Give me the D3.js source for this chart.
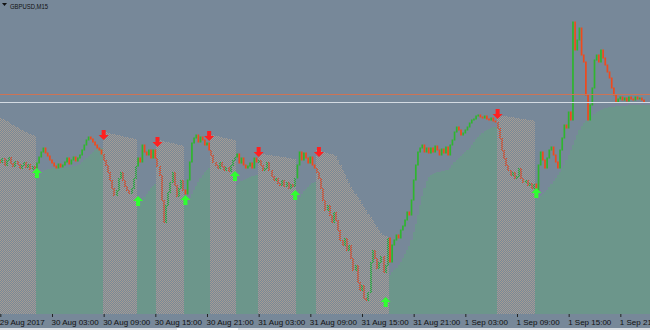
<!DOCTYPE html>
<html>
<head>
<meta charset="utf-8">
<script src="https://cdn.jsdelivr.net/npm/d3@7"></script>
<style>
  html, body { margin: 0; padding: 0; background: #778899; }
  svg { display: block; }
</style>
</head>
<body>
<svg id="chart" width="650" height="330"></svg>
<script>
// ---------------- DATA (GBPUSD, M15) ----------------
const symbolTitle = "GBPUSD,M15";
const firstBarTime = "2017-08-29T21:00";
const firstOpen = 1.29200;

// close prices, one per 15-minute bar
const closes = [
  1.29190,1.29210,1.29175,1.29200,1.29215,1.29185,1.29170,1.29195,1.29180,1.29160,
  1.29175,1.29190,1.29165,1.29180,1.29155,1.29170,1.29160,1.29185,1.29215,1.29240,
  1.29260,1.29235,1.29220,1.29200,1.29185,1.29170,1.29160,1.29180,1.29165,1.29175,
  1.29190,1.29210,1.29180,1.29200,1.29215,1.29195,1.29210,1.29225,1.29250,1.29275,
  1.29300,1.29315,1.29305,1.29290,1.29275,1.29260,1.29250,1.29230,1.29200,1.29175,
  1.29140,1.29100,1.29060,1.29025,1.29050,1.29110,1.29140,1.29100,1.29070,1.29050,
  1.29035,1.29060,1.29110,1.29170,1.29210,1.29190,1.29275,1.29240,1.29225,1.29250,
  1.29210,1.29250,1.29210,1.29170,1.29125,1.29000,1.28890,1.28975,1.29040,1.29090,
  1.29140,1.29075,1.29020,1.29060,1.29100,1.29050,1.29030,1.29100,1.29190,1.29285,
  1.29310,1.29325,1.29290,1.29315,1.29300,1.29275,1.29285,1.29250,1.29225,1.29190,
  1.29175,1.29160,1.29190,1.29170,1.29150,1.29165,1.29145,1.29175,1.29200,1.29215,
  1.29230,1.29185,1.29210,1.29175,1.29160,1.29170,1.29185,1.29160,1.29210,1.29190,
  1.29200,1.29175,1.29150,1.29160,1.29190,1.29150,1.29120,1.29100,1.29110,1.29085,
  1.29075,1.29100,1.29070,1.29090,1.29060,1.29080,1.29070,1.29110,1.29175,1.29240,
  1.29200,1.29235,1.29210,1.29185,1.29215,1.29175,1.29160,1.29140,1.29110,1.29060,
  1.29000,1.28950,1.28975,1.28925,1.28890,1.28940,1.28900,1.28850,1.28800,1.28775,
  1.28810,1.28750,1.28775,1.28710,1.28650,1.28675,1.28590,1.28550,1.28575,1.28510,
  1.28500,1.28540,1.28690,1.28750,1.28710,1.28660,1.28690,1.28720,1.28640,1.28675,
  1.28810,1.28690,1.28775,1.28800,1.28825,1.28810,1.28850,1.28870,1.28900,1.28940,
  1.28925,1.29000,1.29100,1.29175,1.29240,1.29260,1.29275,1.29240,1.29260,1.29235,
  1.29260,1.29240,1.29270,1.29250,1.29225,1.29255,1.29235,1.29265,1.29225,1.29275,
  1.29300,1.29340,1.29365,1.29350,1.29325,1.29335,1.29350,1.29365,1.29385,1.29400,
  1.29405,1.29420,1.29425,1.29415,1.29410,1.29420,1.29405,1.29400,1.29410,1.29395,
  1.29390,1.29360,1.29310,1.29250,1.29210,1.29175,1.29150,1.29125,1.29140,1.29110,
  1.29120,1.29160,1.29110,1.29090,1.29100,1.29075,1.29085,1.29060,1.29080,1.29050,
  1.29175,1.29240,1.29200,1.29160,1.29210,1.29250,1.29265,1.29225,1.29190,1.29160,
  1.29250,1.29310,1.29375,1.29360,1.29440,1.29400,1.29890,1.29750,1.29800,1.29860,
  1.29725,1.29690,1.29525,1.29400,1.29475,1.29560,1.29700,1.29725,1.29690,1.29750,
  1.29710,1.29675,1.29640,1.29610,1.29560,1.29525,1.29490,1.29505,1.29515,1.29500,
  1.29510,1.29495,1.29515,1.29505,1.29500,1.29515,1.29505,1.29510,1.29500,1.29490
];

// trend-band level, one per bar
const band = [
  1.29410,1.29405,1.29400,1.29395,1.29390,1.29380,1.29375,1.29370,1.29365,1.29355,1.29350,1.29345,1.29340,1.29335,1.29330,1.29325,1.29320,
  1.29120,1.29125,1.29130,1.29140,1.29150,1.29155,1.29155,1.29160,1.29160,1.29160,1.29160,1.29160,1.29160,1.29160,1.29165,1.29165,1.29165,1.29170,1.29170,1.29175,1.29180,1.29190,1.29200,1.29210,1.29220,1.29230,1.29240,1.29250,1.29255,1.29260,1.29260,
  1.29340,1.29340,1.29335,1.29335,1.29330,1.29330,1.29325,1.29325,1.29320,1.29320,1.29315,1.29315,1.29310,1.29310,1.29305,1.29305,
  1.28975,1.28985,1.29000,1.29015,1.29030,1.29045,1.29060,1.29070,1.29080,
  1.29300,1.29300,1.29295,1.29295,1.29290,1.29290,1.29285,1.29285,1.29280,1.29280,1.29275,1.29275,1.29270,
  1.28975,1.28990,1.29010,1.29030,1.29050,1.29070,1.29090,1.29110,1.29125,1.29140,1.29150,1.29160,
  1.29325,1.29325,1.29320,1.29320,1.29315,1.29315,1.29310,1.29310,1.29305,1.29305,1.29300,1.29300,
  1.29075,1.29085,1.29095,1.29100,1.29105,1.29110,1.29115,1.29120,1.29120,1.29125,
  1.29235,1.29235,1.29230,1.29230,1.29225,1.29225,1.29225,1.29220,1.29220,1.29220,1.29215,1.29215,1.29215,1.29210,1.29210,1.29210,1.29205,1.29205,
  1.29000,1.29015,1.29030,1.29045,1.29055,1.29065,1.29075,1.29085,1.29090,
  1.29250,1.29250,1.29245,1.29240,1.29240,1.29235,1.29230,1.29230,1.29225,1.29220,1.29200,1.29175,1.29150,1.29130,1.29105,1.29085,1.29065,1.29050,1.29030,1.29015,1.29000,1.28980,1.28965,1.28950,1.28930,1.28915,1.28900,1.28880,1.28865,1.28850,1.28835,1.28825,1.28820,1.28815,
  1.28625,1.28640,1.28650,1.28660,1.28675,1.28690,1.28710,1.28730,1.28750,1.28770,
  1.28800,1.28840,1.28880,1.28925,1.28975,1.29020,1.29060,1.29095,1.29115,1.29125,
  1.29130,1.29135,1.29140,1.29140,1.29145,1.29145,1.29150,1.29150,1.29160,1.29175,
  1.29190,1.29200,1.29210,1.29220,1.29230,1.29240,1.29250,1.29260,1.29275,1.29290,
  1.29305,1.29315,1.29325,1.29335,1.29345,1.29350,1.29355,1.29360,1.29365,1.29365,
  1.29425,1.29425,1.29420,1.29420,1.29420,1.29415,1.29415,1.29415,1.29410,1.29410,1.29410,1.29405,1.29405,1.29405,1.29400,1.29400,1.29400,1.29395,
  1.29000,1.29010,1.29020,1.29030,1.29040,1.29050,1.29065,1.29080,1.29095,1.29110,
  1.29125,1.29140,1.29160,1.29175,1.29200,1.29225,1.29250,1.29275,1.29300,1.29325,
  1.29350,1.29370,1.29385,1.29395,1.29400,1.29410,1.29420,1.29430,1.29440,1.29445,
  1.29450,1.29455,1.29460,1.29460,1.29465,1.29465,1.29465,1.29470,1.29470,1.29470,
  1.29470,1.29470,1.29470,1.29475,1.29475,1.29475,1.29475,1.29475,1.29475,1.29475,
  1.29475
];

// trend segments: first bar of each segment and its direction
const trendStarts = [0, 17, 48, 64, 73, 86, 98, 110, 120, 138, 147, 181, 231, 249];
const trendDirs   = ["down","up","down","up","down","up","down","up","down","up","down","up","down","up"];

// signal arrows
const sellBars   = [48, 73, 97, 120, 148, 231];
const sellPrices = [1.29325, 1.29290, 1.29320, 1.29240, 1.29240, 1.29430];
const buyBars    = [17, 64, 86, 109, 137, 179, 249];
const buyPrices  = [1.29135, 1.28995, 1.29000, 1.29120, 1.29025, 1.28490, 1.29035];

// bid / ask
const bidPrice = 1.29490;
const askPrice = 1.29528;

// time axis
const tickTimes  = ["2017-08-29T21:00","2017-08-30T03:00","2017-08-30T09:00","2017-08-30T15:00","2017-08-30T21:00",
                    "2017-08-31T03:00","2017-08-31T09:00","2017-08-31T15:00","2017-08-31T21:00",
                    "2017-09-01T03:00","2017-09-01T09:00","2017-09-01T15:00","2017-09-01T21:00"];
const tickLabels = ["29 Aug 2017","30 Aug 03:00","30 Aug 09:00","30 Aug 15:00","30 Aug 21:00",
                    "31 Aug 03:00","31 Aug 09:00","31 Aug 15:00","31 Aug 21:00",
                    "1 Sep 03:00","1 Sep 09:00","1 Sep 15:00","1 Sep 21:00"];

// ---------------- DRAWING ----------------
const W = 650, H = 330, plotBottom = 314;
const BG = "#778899", TEAL = "#6c968b", DOT = "#a69c92";
const BULL = "#2fb52f", BEAR = "#f04a1c";
const parse = d3.timeParse("%Y-%m-%dT%H:%M");
const t0 = parse(firstBarTime);
const barTime = i => new Date(+t0 + i * 15 * 60000);

const x = d3.scaleTime()
  .domain([parse("2017-08-29T21:00"), parse("2017-09-01T21:00")])
  .range([0.33, 620.33]);
const y = d3.scaleLinear().domain([1.2840, 1.3000]).range([320, 0]);
const step = x(barTime(1)) - x(barTime(0));

const svg = d3.select("#chart");
const defs = svg.append("defs");
defs.append("clipPath").attr("id", "plotClip")
  .append("rect").attr("x", 0).attr("y", 0).attr("width", W).attr("height", plotBottom);
function checker(id, color) {
  const p = defs.append("pattern").attr("id", id)
    .attr("patternUnits", "userSpaceOnUse").attr("width", 2).attr("height", 2);
  p.append("rect").attr("x", 0).attr("y", 0).attr("width", 1).attr("height", 1).attr("fill", color);
  p.append("rect").attr("x", 1).attr("y", 1).attr("width", 1).attr("height", 1).attr("fill", color);
}
checker("dots", DOT);
checker("bullDots", BULL);
checker("bearDots", BEAR);

svg.append("rect").attr("width", W).attr("height", H).attr("fill", BG);

const plot = svg.append("g").attr("clip-path", "url(#plotClip)");

// segments
const segs = trendStarts.map((s, k) => ({
  start: s,
  end: (k + 1 < trendStarts.length ? trendStarts[k + 1] : closes.length) - 1,
  dir: trendDirs[k]
}));
const dirOf = i => segs.find(s => i >= s.start && i <= s.end).dir;
function segPoints(seg) {
  const pts = [];
  for (let i = seg.start; i <= seg.end; i++) pts.push([x(barTime(i)) - step / 2, y(band[i])]);
  const xe = seg.end === closes.length - 1 ? W + 2 : x(barTime(seg.end)) + step / 2;
  pts.push([xe, y(band[seg.end])]);
  return pts;
}
const area = d3.area().x(d => d[0]).y0(plotBottom).y1(d => d[1]).curve(d3.curveStepAfter);

// band fills
plot.append("g").selectAll("path")
  .data(segs)
  .join("path")
  .attr("d", s => area(segPoints(s)))
  .attr("fill", s => s.dir === "up" ? TEAL : "url(#dots)")
  .attr("shape-rendering", "crispEdges");

// candles (dotted inside down-trend zones)
const candles = closes.map((c, i) => ({ i, open: i === 0 ? firstOpen : closes[i - 1], close: c, dir: dirOf(i) }));
plot.append("g").selectAll("rect")
  .data(candles)
  .join("rect")
  .attr("x", d => d.dir === "down" ? Math.round(x(barTime(d.i))) - 1 : x(barTime(d.i)) - 0.85)
  .attr("width", d => d.dir === "down" ? 2 : 1.7)
  .attr("y", d => Math.min(y(d.open), y(d.close)) - 0.5)
  .attr("height", d => Math.max(2, Math.abs(y(d.open) - y(d.close)) + 1))
  .attr("fill", d => {
    const bull = d.close >= d.open;
    if (d.dir === "down") return bull ? "url(#bullDots)" : "url(#bearDots)";
    return bull ? BULL : BEAR;
  })
  .attr("shape-rendering", d => d.dir === "down" ? "crispEdges" : "auto");

// arrows
function arrowPath(cx, cy, up) {
  const s = up ? 1 : -1;
  return `M${cx - 5},${cy} L${cx},${cy - 5 * s} L${cx + 5},${cy} L${cx + 2},${cy} L${cx + 2},${cy + 5 * s} L${cx - 2},${cy + 5 * s} L${cx - 2},${cy} Z`;
}
plot.append("g").selectAll("path")
  .data(sellBars.map((b, k) => ({ b, p: sellPrices[k] })))
  .join("path")
  .attr("d", d => arrowPath(x(barTime(d.b)), y(d.p), false))
  .attr("fill", "#ff2020");
plot.append("g").selectAll("path")
  .data(buyBars.map((b, k) => ({ b, p: buyPrices[k] })))
  .join("path")
  .attr("d", d => arrowPath(x(barTime(d.b)), y(d.p), true))
  .attr("fill", "#30ff30");

// ask / bid lines
plot.append("line").attr("x1", 0).attr("x2", W)
  .attr("y1", Math.round(y(askPrice)) + 0.5).attr("y2", Math.round(y(askPrice)) + 0.5)
  .attr("stroke", "#cc7355").attr("stroke-width", 1);
plot.append("line").attr("x1", 0).attr("x2", W)
  .attr("y1", Math.round(y(bidPrice)) + 0.5).attr("y2", Math.round(y(bidPrice)) + 0.5)
  .attr("stroke", "#d4dbe2").attr("stroke-width", 1);

// title
svg.append("path").attr("d", "M2,3 L7,3 L4.5,6 Z").attr("fill", "#111");
svg.append("text").attr("x", 10).attr("y", 8.5)
  .attr("font-family", "'Liberation Sans', Arial, sans-serif")
  .attr("font-size", 7.6)
  .attr("textLength", 38).attr("lengthAdjust", "spacingAndGlyphs")
  .attr("fill", "#111")
  .text(symbolTitle);

// time axis
const axis = d3.axisBottom(x)
  .tickValues(tickTimes.map(parse))
  .tickFormat((d, i) => tickLabels[i])
  .tickSize(3)
  .tickSizeOuter(0);
const ax = svg.append("g").attr("transform", `translate(0,${plotBottom})`).call(axis);
ax.select(".domain").remove();
ax.selectAll(".tick line").attr("stroke", "#222");
ax.selectAll(".tick text")
  .attr("text-anchor", "start")
  .attr("x", -1).attr("y", 5).attr("dy", "0.71em")
  .attr("font-family", "'Liberation Sans', Arial, sans-serif")
  .attr("font-size", 8)
  .attr("fill", "#111");

// bottom strip
svg.append("rect").attr("x", 0).attr("y", 328).attr("width", W).attr("height", 2).attr("fill", "#dfe2e6");
svg.append("rect").attr("x", 177).attr("y", 328).attr("width", 61).attr("height", 2).attr("fill", "#ffffff");
</script>
</body>
</html>
